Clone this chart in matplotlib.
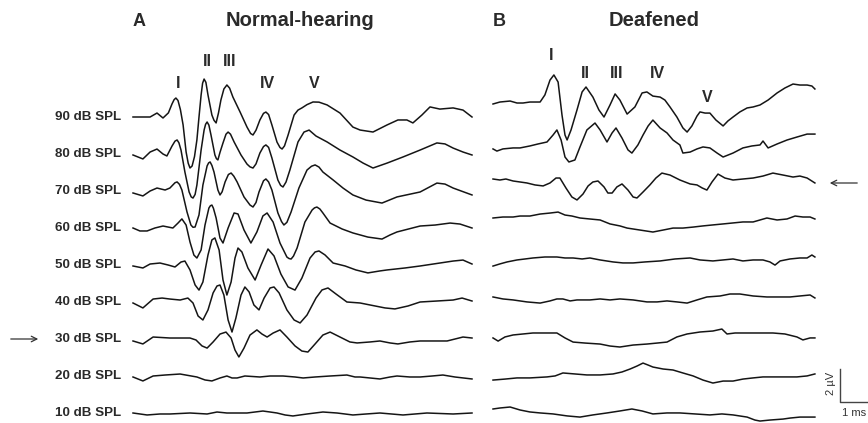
import matplotlib
matplotlib.use("Agg")
import matplotlib.pyplot as plt

plt.rcParams['font.family'] = ['Liberation Sans', 'DejaVu Sans']

# ABR waveforms, time in ms from trace start, amplitude in uV
levels = ['90 dB SPL', '80 dB SPL', '70 dB SPL', '60 dB SPL', '50 dB SPL',
          '40 dB SPL', '30 dB SPL', '20 dB SPL', '10 dB SPL']

# --- A: normal-hearing ---
a90_t = [0, .57, .80, 1.00, 1.18, 1.30, 1.37, 1.43, 1.50, 1.58, 1.67, 1.77, 1.84, 1.90, 1.97, 2.05, 2.13, 2.20,
         2.27, 2.32, 2.37, 2.43, 2.50, 2.63, 2.70, 2.77, 2.85, 2.93, 3.03, 3.13, 3.22, 3.33, 3.57, 3.80, 3.92,
         4.00, 4.10, 4.23, 4.35, 4.43, 4.52, 4.63, 4.80, 4.90, 4.97, 5.05, 5.17, 5.37, 5.50, 5.63, 5.80, 6.00,
         6.20, 6.47, 6.90, 7.33, 7.57, 8.00, 8.47, 8.83, 9.13, 9.33, 9.63, 9.90, 10.23, 10.67, 11.00, 11.30]
a90_v = [0, 0, .24, -.06, .25, .79, 1.05, 1.15, 1.0, .45, -.48, -2.12, -2.8, -3.09, -2.97, -2.4, -1.39, 0,
         1.33, 2.05, 2.30, 2.10, 1.33, .12, -.2, -.36, .25, 1.03, 1.7, 1.94, 1.75, 1.21, .30, -.61, -1.0,
         -1.09, -.8, -.18, .22, .30, .15, -.48, -1.52, -1.85, -1.94, -1.75, -1.09, .12, .42, .55, .75, .91,
         .90, .73, .24, -.61, -.79, -.91, -.48, -.18, -.18, -.36, .12, .61, .48, .55, .42, 0]

a80_t = [0, .33, .57, .80, 1.00, 1.13, 1.30, 1.40, 1.47, 1.53, 1.60, 1.73, 1.87, 1.94, 2.00, 2.07, 2.13, 2.27,
         2.37, 2.42, 2.47, 2.53, 2.60, 2.73, 2.78, 2.83, 2.90, 3.00, 3.10, 3.17, 3.25, 3.37, 3.60, 3.80, 3.90,
         4.00, 4.10, 4.23, 4.35, 4.43, 4.52, 4.63, 4.83, 4.92, 5.00, 5.10, 5.23, 5.50, 5.70, 5.87, 6.10, 6.47,
         6.90, 7.33, 7.67, 8.00, 8.47, 9.00, 9.57, 10.13, 10.40, 10.67, 11.00, 11.30]
a80_v = [-.06, -.30, .12, .30, 0, -.12, .48, .78, .85, .68, .24, -1.09, -2.30, -2.6, -2.67, -2.45, -1.88, .24,
         1.45, 1.8, 1.94, 1.75, 1.15, -.06, -.28, -.36, .1, .67, 1.2, 1.33, 1.2, .73, -.06, -.61, -.78,
         -.85, -.6, .06, .45, .55, .4, -.24, -1.58, -1.9, -2.00, -1.7, -.97, .73, 1.33, 1.45, 1.09, .73,
         .24, -.18, -.55, -.85, -.55, -.18, .24, .67, .61, .36, .12, -.06]

a70_t = [0, .33, .57, .80, 1.07, 1.23, 1.40, 1.47, 1.55, 1.63, 1.80, 1.93, 2.00, 2.07, 2.20, 2.33, 2.47, 2.52,
         2.57, 2.63, 2.70, 2.83, 2.90, 2.97, 3.07, 3.18, 3.27, 3.36, 3.47, 3.70, 3.90, 4.00, 4.10, 4.20, 4.35,
         4.43, 4.52, 4.63, 4.83, 4.95, 5.03, 5.13, 5.27, 5.53, 5.80, 5.95, 6.07, 6.20, 6.33, 6.67, 7.00, 7.33,
         7.77, 8.30, 8.80, 9.57, 10.13, 10.40, 10.67, 11.30]
a70_v = [-.12, -.30, 0, .18, .06, .18, .5, .55, .4, .06, -1.27, -2.06, -2.2, -2.18, -1.45, .36, 1.52, 1.7,
         1.76, 1.55, 1.15, .06, -.24, -.05, .55, 1.0, 1.09, .9, .55, -.36, -.85, -.97, -.7, -.06, .62,
         .73, .55, .06, -1.33, -1.85, -2.06, -1.9, -1.27, .18, 1.27, 1.5, 1.58, 1.45, 1.15, .67, .18, -.24,
         -.55, -.73, -.36, -.06, .48, .42, .18, -.24]

a60_t = [0, .23, .47, .73, 1.00, 1.33, 1.50, 1.63, 1.77, 1.90, 2.03, 2.13, 2.27, 2.40, 2.53, 2.58, 2.63, 2.68,
         2.77, 2.90, 3.00, 3.17, 3.37, 3.50, 3.70, 3.93, 4.13, 4.33, 4.47, 4.67, 4.90, 5.13, 5.20, 5.27, 5.35,
         5.47, 5.73, 5.97, 6.05, 6.13, 6.23, 6.33, 6.57, 6.97, 7.33, 7.83, 8.30, 8.57, 8.80, 9.57, 10.07, 10.57,
         10.90, 11.30]
a60_v = [0, -.18, -.18, 0, .12, 0, .30, .55, .18, -.85, -1.64, -1.82, -1.33, .18, 1.21, 1.35, 1.39, 1.2,
         .61, -.61, -.91, 0, .91, .85, -.12, -.91, -.24, .73, .91, .36, -.91, -1.76, -1.85, -1.88, -1.7,
         -1.21, .36, 1.09, 1.22, 1.27, 1.15, .91, .30, -.06, -.30, -.55, -.67, -.42, -.24, .12, .18, .30,
         .24, 0]

a50_t = [0, .33, .57, .90, 1.17, 1.40, 1.60, 1.73, 1.90, 2.07, 2.20, 2.33, 2.50, 2.63, 2.73, 2.87, 3.00, 3.13,
         3.27, 3.40, 3.50, 3.63, 3.83, 4.07, 4.27, 4.50, 4.70, 4.93, 5.17, 5.40, 5.63, 5.90, 6.07, 6.20, 6.40,
         6.67, 7.07, 7.43, 7.83, 8.23, 8.47, 9.07, 9.57, 10.23, 10.67, 11.00, 11.30]
a50_v = [-.06, -.18, .06, .12, 0, -.12, .18, .24, -.30, -1.21, -1.52, -1.03, .61, 1.52, 1.64, .91, -.91, -1.82,
         -1.03, .42, 1.03, .79, -.18, -.91, 0, .97, .55, -.55, -1.33, -1.52, -.79, .42, .79, .85, .61,
         .12, -.06, -.30, -.48, -.36, -.30, -.18, -.06, .12, .24, .30, .06]

a40_t = [0, .33, .67, .97, 1.23, 1.57, 1.83, 2.00, 2.17, 2.33, 2.50, 2.67, 2.80, 2.90, 3.03, 3.17, 3.30, 3.43,
         3.60, 3.73, 3.87, 4.03, 4.20, 4.37, 4.57, 4.70, 4.87, 5.13, 5.37, 5.57, 5.80, 6.10, 6.30, 6.50, 6.77,
         7.13, 7.57, 7.90, 8.40, 8.73, 9.17, 9.57, 10.13, 10.67, 10.97, 11.30]
a40_v = [-.06, -.36, .18, .24, .18, .12, .24, -.06, -.85, -1.09, -.48, .55, .97, 1.03, .42, -1.09, -1.82, -.97,
         .42, .91, .61, -.18, -.48, .24, .85, .91, .55, -.48, -1.09, -1.27, -.79, .24, .73, .85, .48,
         0, -.06, -.18, -.36, -.42, -.24, 0, .06, .12, .24, .06]

a30_t = [0, .33, .67, 1.23, 1.90, 2.10, 2.30, 2.47, 2.67, 2.90, 3.10, 3.27, 3.40, 3.53, 3.70, 3.90, 4.13, 4.30,
         4.47, 4.67, 4.90, 5.13, 5.40, 5.63, 5.83, 6.07, 6.33, 6.57, 6.90, 7.23, 7.47, 7.90, 8.23, 8.57, 8.83,
         9.23, 9.57, 10.47, 11.00, 11.30]
a30_v = [-.12, -.30, .12, .06, .06, -.06, -.42, -.55, -.18, .30, .42, .06, -.67, -1.09, -.55, .24, .55, .30,
         .12, .36, .55, .12, -.42, -.73, -.79, -.30, .24, .42, .12, -.18, -.24, -.18, -.12, -.24, -.30,
         -.18, -.12, -.12, .12, .06]

a20_t = [0, .33, .67, 1.07, 1.57, 2.13, 2.40, 2.63, 2.90, 3.13, 3.30, 3.47, 3.73, 4.23, 4.57, 5.00, 5.40, 5.67,
         6.07, 6.57, 7.13, 7.40, 7.57, 7.90, 8.23, 8.57, 8.80, 9.23, 9.57, 9.97, 10.33, 10.73, 11.30]
a20_v = [-.06, -.30, 0, .06, .12, -.06, -.24, -.30, -.12, 0, -.12, -.12, 0, -.06, 0, 0, -.06, -.12,
         -.06, 0, .06, -.06, -.06, -.12, -.18, -.06, 0, -.06, -.06, 0, .06, -.06, -.18]

a10_t = [0, .47, .90, 1.23, 1.90, 2.47, 2.80, 3.13, 3.80, 4.33, 4.57, 4.80, 5.07, 5.33, 5.80, 6.33, 6.80, 7.33,
         7.77, 8.23, 9.00, 9.80, 10.67, 11.30]
a10_v = [0, -.12, -.06, -.06, 0, -.06, .06, 0, 0, .12, .06, 0, -.12, -.18, -.06, .06, 0, -.12,
         -.06, 0, -.12, 0, -.06, 0]

# --- B: deafened ---
b90_t = [0, .23, .57, .80, 1.00, 1.23, 1.57, 1.73, 1.90, 2.03, 2.17, 2.30, 2.40, 2.47, 2.60, 2.80, 2.97, 3.10,
         3.33, 3.53, 3.70, 3.90, 4.07, 4.23, 4.47, 4.73, 4.97, 5.13, 5.33, 5.57, 5.73, 5.90, 6.13, 6.33, 6.47,
         6.63, 6.80, 6.90, 7.07, 7.23, 7.43, 7.67, 7.83, 8.00, 8.23, 8.47, 8.67, 8.90, 9.17, 9.47, 9.73, 10.00,
         10.23, 10.47, 10.63, 10.73]
b90_v = [0, .12, .18, .06, .06, .12, .12, .55, 1.45, 1.76, 1.33, -.67, -1.88, -2.18, -1.58, -.36, .73, 1.03,
         .42, -.36, -.79, -.06, .61, .24, -.61, -.18, .67, .73, .48, .42, .24, -.18, -.79, -1.45, -1.70,
         -1.33, -.73, -.48, -.55, -.55, -.97, -1.33, -1.03, -.79, -.48, -.24, -.18, -.06, .24, .67, .97, 1.21,
         1.15, 1.15, 1.09, .91]

b80_t = [0, .13, .33, .67, .90, 1.23, 1.50, 1.80, 2.00, 2.13, 2.27, 2.40, 2.53, 2.73, 2.90, 3.13, 3.40, 3.57,
         3.80, 3.97, 4.10, 4.30, 4.50, 4.63, 4.83, 5.00, 5.17, 5.33, 5.57, 5.80, 6.00, 6.23, 6.33, 6.57, 6.80,
         7.00, 7.23, 7.47, 7.67, 8.00, 8.33, 8.63, 8.90, 9.00, 9.17, 9.47, 9.80, 10.13, 10.47, 10.73]
b80_v = [-.42, -.55, -.42, -.36, -.36, -.24, -.12, 0, .42, .73, .12, -.91, -1.21, -1.09, -.30, .73, 1.15, .73,
         0, .55, .85, .24, -.48, -.67, -.18, .42, .97, 1.33, .85, .55, .12, -.18, -.67, -.61, -.42,
         -.30, -.36, -.67, -.91, -.67, -.36, -.24, -.18, .06, -.36, -.12, .12, .30, .48, .48]

b70_t = [0, .23, .43, .67, .90, 1.13, 1.40, 1.67, 1.90, 2.10, 2.23, 2.43, 2.63, 2.80, 3.00, 3.17, 3.33, 3.50,
         3.70, 3.83, 3.97, 4.13, 4.30, 4.50, 4.67, 4.80, 5.00, 5.23, 5.43, 5.63, 5.90, 6.23, 6.57, 6.80, 6.97,
         7.13, 7.30, 7.50, 7.73, 8.00, 8.33, 8.67, 9.00, 9.33, 9.67, 10.00, 10.23, 10.47, 10.73]
b70_v = [.06, 0, .06, -.06, -.12, -.18, -.30, -.36, -.18, .12, .12, -.48, -1.03, -1.21, -.85, -.36, -.12, -.06,
         -.42, -.79, -.79, -.42, -.24, -.61, -1.03, -1.09, -.73, -.30, .12, .42, .30, 0, -.24, -.30, -.48,
         -.61, -.12, .36, .12, 0, .06, .12, .24, .42, .30, .18, .24, .12, -.18]

b60_t = [0, .33, .67, .90, 1.23, 1.57, 1.90, 2.17, 2.40, 2.63, 2.90, 3.23, 3.57, 3.90, 4.23, 4.47, 4.90, 5.33,
         5.67, 6.00, 6.33, 6.67, 7.00, 7.33, 7.67, 8.00, 8.33, 8.67, 8.90, 9.13, 9.47, 9.80, 10.07, 10.33,
         10.57, 10.73]
b60_v = [0, .06, .06, .12, .12, .24, .30, .36, .18, .12, 0, -.06, -.12, -.36, -.48, -.61, -.73, -.85,
         -.73, -.61, -.61, -.55, -.48, -.42, -.36, -.30, -.24, -.24, -.12, 0, -.12, -.06, .12, .06,
         .06, -.06]

b50_t = [0, .23, .47, .80, 1.07, 1.33, 1.73, 2.13, 2.40, 2.67, 2.97, 3.23, 3.57, 4.00, 4.33, 4.67, 5.07, 5.57,
         6.07, 6.57, 6.90, 7.33, 7.67, 8.00, 8.33, 8.67, 9.00, 9.23, 9.40, 9.57, 9.90, 10.23, 10.47, 10.63,
         10.73]
b50_v = [-.61, -.48, -.36, -.24, -.18, -.12, -.06, -.06, -.12, -.12, -.18, -.12, -.24, -.36, -.42, -.42, -.36,
         -.30, -.18, -.12, -.24, -.30, -.24, -.18, -.30, -.24, -.24, -.36, -.55, -.30, -.18, -.12, -.12, .06,
         -.06]

b40_t = [0, .33, .67, 1.13, 1.57, 1.90, 2.13, 2.33, 2.57, 2.80, 3.23, 3.57, 3.90, 4.23, 4.67, 5.13, 5.47, 5.80,
         6.13, 6.47, 6.80, 7.13, 7.57, 7.90, 8.23, 8.67, 9.13, 9.57, 9.90, 10.23, 10.57, 10.73]
b40_v = [-.18, -.30, -.36, -.48, -.55, -.42, -.30, -.30, -.42, -.36, -.36, -.30, -.36, -.30, -.36, -.48, -.48,
         -.42, -.48, -.55, -.36, -.18, -.12, 0, 0, -.12, -.18, -.18, -.18, -.12, -.06, -.24]

b30_t = [0, .17, .40, .67, 1.00, 1.33, 1.73, 2.13, 2.40, 2.67, 3.07, 3.57, 3.90, 4.23, 4.67, 5.13, 5.47, 5.80,
         6.13, 6.47, 6.90, 7.33, 7.63, 7.80, 8.07, 8.47, 8.90, 9.33, 9.73, 10.13, 10.33, 10.57, 10.73]
b30_v = [-.36, -.55, -.30, -.18, -.12, -.06, -.06, -.06, -.36, -.61, -.67, -.73, -.85, -.91, -.79, -.73, -.67,
         -.61, -.30, -.12, 0, .06, .18, -.12, -.06, -.06, -.06, -.06, -.12, -.30, -.48, -.36, -.36]

b20_t = [0, .40, .80, 1.23, 1.80, 2.07, 2.33, 2.73, 3.13, 3.57, 4.00, 4.30, 4.57, 4.80, 5.00, 5.17, 5.33, 5.67,
         6.00, 6.33, 6.67, 7.00, 7.33, 7.67, 8.00, 8.33, 8.67, 9.00, 9.33, 9.73, 10.13, 10.47, 10.73]
b20_v = [-.61, -.55, -.48, -.48, -.42, -.36, -.18, -.24, -.30, -.30, -.24, -.12, .06, .24, .42, .30, .18, .06,
         0, -.18, -.36, -.61, -.79, -.67, -.67, -.55, -.48, -.42, -.42, -.42, -.42, -.36, -.24]

b10_t = [0, .23, .57, .90, 1.23, 1.57, 2.00, 2.47, 2.90, 3.33, 3.80, 4.23, 4.63, 4.97, 5.33, 5.80, 6.23, 6.73,
         7.23, 7.63, 8.00, 8.47, 8.73, 8.90, 9.23, 9.67, 9.90, 10.23, 10.57, 10.73]
b10_v = [-.06, 0, .06, -.12, -.24, -.30, -.36, -.48, -.55, -.42, -.30, -.18, -.06, -.18, -.36, -.30, -.30, -.36,
         -.42, -.36, -.42, -.55, -.73, -.79, -.73, -.67, -.61, -.55, -.55, -.55]

traces_a = [(a90_t, a90_v), (a80_t, a80_v), (a70_t, a70_v), (a60_t, a60_v), (a50_t, a50_v),
            (a40_t, a40_v), (a30_t, a30_v), (a20_t, a20_v), (a10_t, a10_v)]
traces_b = [(b90_t, b90_v), (b80_t, b80_v), (b70_t, b70_v), (b60_t, b60_v), (b50_t, b50_v),
            (b40_t, b40_v), (b30_t, b30_v), (b20_t, b20_v), (b10_t, b10_v)]

peaks_a = ['I', 'II', 'III', 'IV', 'V']
peaks_b = ['I', 'II', 'III', 'IV', 'V']

# layout: 30 px per ms, 16.5 px per uV on a 868x423 canvas
PX_MS = 30.0
PX_UV = 16.5
def fx(px):
    return px / PX_MS
def fy(py):
    return -py / PX_UV

A_T0, B_T0 = fx(133), fx(493)
A_Y0, B_Y0 = fy(117), fy(104)
GAP_A, GAP_B = 37 / PX_UV, 38 / PX_UV

fig = plt.figure(figsize=(8.68, 4.23), dpi=100)
ax = fig.add_axes([0, 0, 1, 1])
ax.set_xlim(0, fx(868))
ax.set_ylim(fy(423), 0)
ax.axis('off')

line_kw = dict(color='#151515', lw=1.1, solid_joinstyle='round')
txt = '#2a2a2a'

for k, (t, v) in enumerate(traces_a):
    base = A_Y0 - k * GAP_A
    ax.plot([A_T0 + x for x in t], [base + y for y in v], **line_kw)
    ax.text(fx(121), base, levels[k], ha='right', va='center', fontsize=9.6,
            fontweight='bold', color=txt)

for k, (t, v) in enumerate(traces_b):
    base = B_Y0 - k * GAP_B
    ax.plot([B_T0 + x for x in t], [base + y for y in v], **line_kw)

# panel titles
ax.text(fx(139), fy(21), 'A', ha='center', va='center', fontsize=13, fontweight='bold', color=txt)
ax.text(fx(300), fy(21), 'Normal-hearing', ha='center', va='center', fontsize=14.5, fontweight='bold', color=txt)
ax.text(fx(499), fy(21), 'B', ha='center', va='center', fontsize=13, fontweight='bold', color=txt)
ax.text(fx(654), fy(21), 'Deafened', ha='center', va='center', fontsize=14.5, fontweight='bold', color=txt)

# wave labels
pos_a = [(178, 83), (207, 62), (230, 62), (267, 83), (314, 83)]
for lab, (px, py) in zip(peaks_a, pos_a):
    ax.text(fx(px), fy(py), lab, ha='center', va='center', fontsize=11.5, fontweight='bold', color=txt)
pos_b = [(551, 56), (585, 73), (617, 73), (657, 73), (707, 97)]
for lab, (px, py) in zip(peaks_b, pos_b):
    ax.text(fx(px), fy(py), lab, ha='center', va='center', fontsize=11.5, fontweight='bold', color=txt)

# threshold arrows
arr = dict(arrowstyle='->', color='#333333', lw=0.9, mutation_scale=10)
ax.annotate('', xy=(fx(41), A_Y0 - 6 * GAP_A), xytext=(fx(8), A_Y0 - 6 * GAP_A), arrowprops=arr)
ax.annotate('', xy=(fx(827), fy(183)), xytext=(fx(860), fy(183)), arrowprops=arr)

# scale bar: 1 ms, 2 uV
sx, sy = fx(840), fy(402)
ax.plot([sx, sx, sx + 1.0], [sy + 2.0, sy, sy], color='#444444', lw=1.0, clip_on=False)
ax.text(sx - fx(9), sy + 1.1, '2 µV', rotation=90, ha='center', va='center', fontsize=8, color='#333333')
ax.text(sx + fx(14), sy - 11 / PX_UV, '1 ms', ha='center', va='center', fontsize=8, color='#333333')

fig.savefig('out.png', dpi=100)
